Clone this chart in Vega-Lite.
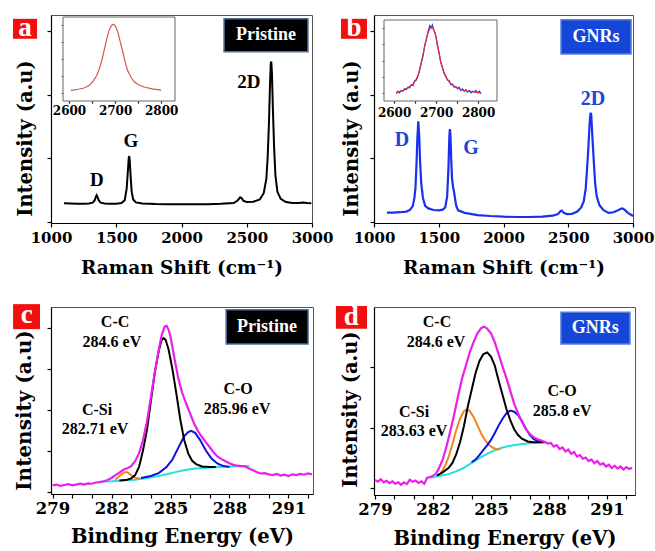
{
"$schema": "https://vega.github.io/schema/vega-lite/v6.json",
"padding": {"left": 12, "top": 13, "right": 4, "bottom": 2},
"background": "white",
"config": {
 "view": {"stroke": "#555", "strokeWidth": 1},
 "style": {"guide-label": {"font": "DejaVu Serif", "fontWeight": "bold"}, "guide-title": {"font": "DejaVu Serif", "fontWeight": "bold"}},
 "axis": {"grid": false, "domainColor": "black", "tickColor": "black", "labelColor": "black", "titleColor": "black", "domainWidth": 1.2, "tickWidth": 1.2},
 "text": {"font": "Liberation Serif", "fontWeight": "bold"}
},
"datasets": {
 "a_main": [{"x":1100,"y":0.08},{"x":1150,"y":0.075},{"x":1200,"y":0.07},{"x":1250,"y":0.07},{"x":1290,"y":0.075},{"x":1320,"y":0.1},{"x":1335,"y":0.18},{"x":1345,"y":0.3},{"x":1350,"y":0.34},{"x":1355,"y":0.3},{"x":1365,"y":0.18},{"x":1380,"y":0.1},{"x":1410,"y":0.075},{"x":1450,"y":0.07},{"x":1500,"y":0.07},{"x":1540,"y":0.09},{"x":1565,"y":0.18},{"x":1580,"y":0.55},{"x":1590,"y":1.15},{"x":1596,"y":1.52},{"x":1599,"y":1.57},{"x":1603,"y":1.45},{"x":1610,"y":0.95},{"x":1618,"y":0.45},{"x":1630,"y":0.2},{"x":1650,"y":0.11},{"x":1700,"y":0.075},{"x":1800,"y":0.06},{"x":1900,"y":0.055},{"x":2000,"y":0.055},{"x":2100,"y":0.05},{"x":2200,"y":0.055},{"x":2300,"y":0.065},{"x":2400,"y":0.09},{"x":2430,"y":0.17},{"x":2450,"y":0.27},{"x":2460,"y":0.25},{"x":2475,"y":0.16},{"x":2500,"y":0.12},{"x":2550,"y":0.13},{"x":2600,"y":0.2},{"x":2630,"y":0.4},{"x":2650,"y":0.85},{"x":2660,"y":1.5},{"x":2670,"y":2.6},{"x":2678,"y":3.8},{"x":2684,"y":4.5},{"x":2688,"y":4.55},{"x":2693,"y":4.2},{"x":2700,"y":3.1},{"x":2710,"y":1.8},{"x":2720,"y":0.95},{"x":2735,"y":0.45},{"x":2760,"y":0.22},{"x":2800,"y":0.12},{"x":2850,"y":0.09},{"x":2900,"y":0.09},{"x":2930,"y":0.11},{"x":2960,"y":0.09},{"x":2995,"y":0.08}],
 "a_inset": [{"x":2604,"y":0.127},{"x":2620,"y":0.14},{"x":2633,"y":0.155},{"x":2645,"y":0.19},{"x":2651,"y":0.226},{"x":2660,"y":0.3},{"x":2666,"y":0.385},{"x":2672,"y":0.5},{"x":2677,"y":0.62},{"x":2682,"y":0.74},{"x":2687,"y":0.84},{"x":2692,"y":0.9},{"x":2697,"y":0.915},{"x":2701,"y":0.89},{"x":2706,"y":0.82},{"x":2711,"y":0.71},{"x":2717,"y":0.58},{"x":2722,"y":0.46},{"x":2727,"y":0.365},{"x":2735,"y":0.28},{"x":2742,"y":0.226},{"x":2752,"y":0.19},{"x":2763,"y":0.167},{"x":2780,"y":0.145},{"x":2800,"y":0.13}],
 "a_lab": [{"x":1352,"y":0.82,"t":"D"},{"x":1613,"y":2.05,"t":"G"},{"x":2517,"y":3.91,"t":"2D"}],
 "b_main": [{"x":1100,"y":-0.21},{"x":1150,"y":-0.21},{"x":1200,"y":-0.2},{"x":1250,"y":-0.18},{"x":1280,"y":-0.12},{"x":1300,"y":0.0},{"x":1312,"y":0.25},{"x":1320,"y":0.55},{"x":1328,"y":1.3},{"x":1335,"y":2.15},{"x":1342,"y":2.67},{"x":1349,"y":2.2},{"x":1356,"y":1.4},{"x":1365,"y":0.7},{"x":1378,"y":0.25},{"x":1395,"y":0.0},{"x":1420,"y":-0.08},{"x":1460,"y":-0.13},{"x":1500,"y":-0.14},{"x":1530,"y":-0.12},{"x":1550,"y":-0.05},{"x":1565,"y":0.3},{"x":1575,"y":1.2},{"x":1582,"y":2.2},{"x":1586,"y":2.42},{"x":1590,"y":2.25},{"x":1596,"y":1.5},{"x":1602,"y":0.9},{"x":1610,"y":0.6},{"x":1618,"y":0.45},{"x":1625,"y":0.25},{"x":1635,"y":0.0},{"x":1650,"y":-0.14},{"x":1700,"y":-0.22},{"x":1800,"y":-0.29},{"x":1900,"y":-0.32},{"x":2000,"y":-0.34},{"x":2100,"y":-0.35},{"x":2200,"y":-0.35},{"x":2300,"y":-0.34},{"x":2380,"y":-0.31},{"x":2420,"y":-0.26},{"x":2440,"y":-0.17},{"x":2450,"y":-0.15},{"x":2465,"y":-0.22},{"x":2490,"y":-0.26},{"x":2530,"y":-0.25},{"x":2570,"y":-0.18},{"x":2600,"y":-0.05},{"x":2620,"y":0.15},{"x":2635,"y":0.55},{"x":2645,"y":1.15},{"x":2655,"y":1.8},{"x":2663,"y":2.45},{"x":2668,"y":2.78},{"x":2673,"y":2.94},{"x":2678,"y":2.85},{"x":2686,"y":2.2},{"x":2698,"y":1.35},{"x":2708,"y":0.7},{"x":2720,"y":0.3},{"x":2740,"y":0.03},{"x":2770,"y":-0.13},{"x":2810,"y":-0.22},{"x":2850,"y":-0.2},{"x":2880,"y":-0.15},{"x":2905,"y":-0.09},{"x":2918,"y":-0.08},{"x":2935,"y":-0.12},{"x":2960,"y":-0.22},{"x":2985,"y":-0.28},{"x":3000,"y":-0.32}],
 "b_raw": [{"x":2605,"y":0.09},{"x":2609,"y":0.12},{"x":2613,"y":0.1},{"x":2617,"y":0.13},{"x":2621,"y":0.12},{"x":2625,"y":0.15},{"x":2629,"y":0.14},{"x":2633,"y":0.17},{"x":2637,"y":0.16},{"x":2641,"y":0.2},{"x":2645,"y":0.19},{"x":2649,"y":0.25},{"x":2653,"y":0.26},{"x":2657,"y":0.31},{"x":2661,"y":0.38},{"x":2665,"y":0.47},{"x":2669,"y":0.56},{"x":2673,"y":0.69},{"x":2677,"y":0.76},{"x":2681,"y":0.86},{"x":2685,"y":0.93},{"x":2688,"y":0.9},{"x":2691,"y":0.94},{"x":2694,"y":0.88},{"x":2697,"y":0.85},{"x":2700,"y":0.79},{"x":2703,"y":0.69},{"x":2707,"y":0.6},{"x":2711,"y":0.48},{"x":2715,"y":0.42},{"x":2719,"y":0.34},{"x":2723,"y":0.31},{"x":2727,"y":0.26},{"x":2731,"y":0.25},{"x":2735,"y":0.2},{"x":2739,"y":0.21},{"x":2743,"y":0.17},{"x":2747,"y":0.18},{"x":2751,"y":0.15},{"x":2755,"y":0.17},{"x":2759,"y":0.13},{"x":2763,"y":0.15},{"x":2767,"y":0.12},{"x":2771,"y":0.14},{"x":2775,"y":0.11},{"x":2779,"y":0.13},{"x":2783,"y":0.1},{"x":2787,"y":0.12},{"x":2791,"y":0.11},{"x":2795,"y":0.13},{"x":2799,"y":0.1},{"x":2803,"y":0.12},{"x":2807,"y":0.09}],
 "b_fit": [{"x":2605,"y":0.1},{"x":2620,"y":0.13},{"x":2632,"y":0.16},{"x":2645,"y":0.21},{"x":2652,"y":0.26},{"x":2658,"y":0.33},{"x":2664,"y":0.46},{"x":2670,"y":0.6},{"x":2676,"y":0.75},{"x":2681,"y":0.85},{"x":2686,"y":0.9},{"x":2690,"y":0.91},{"x":2695,"y":0.88},{"x":2700,"y":0.78},{"x":2706,"y":0.62},{"x":2712,"y":0.46},{"x":2718,"y":0.36},{"x":2724,"y":0.29},{"x":2732,"y":0.23},{"x":2740,"y":0.19},{"x":2753,"y":0.155},{"x":2766,"y":0.13},{"x":2785,"y":0.115},{"x":2805,"y":0.1}],
 "b_lab": [{"x":1216,"y":2.08,"t":"D"},{"x":1749,"y":1.83,"t":"G"},{"x":2691,"y":3.38,"t":"2D"}],
 "c_mag": [{"x":279.0,"y":-0.35},{"x":279.2,"y":-0.33},{"x":279.4,"y":-0.36},{"x":279.6,"y":-0.34},{"x":279.8,"y":-0.32},{"x":280.0,"y":-0.35},{"x":280.2,"y":-0.33},{"x":280.4,"y":-0.31},{"x":280.6,"y":-0.33},{"x":280.8,"y":-0.3},{"x":281.0,"y":-0.31},{"x":281.2,"y":-0.28},{"x":281.4,"y":-0.27},{"x":281.6,"y":-0.25},{"x":281.8,"y":-0.22},{"x":282.0,"y":-0.17},{"x":282.2,"y":-0.1},{"x":282.4,"y":-0.04},{"x":282.6,"y":0.03},{"x":282.8,"y":0.07},{"x":283.0,"y":0.12},{"x":283.2,"y":0.24},{"x":283.4,"y":0.43},{"x":283.6,"y":0.75},{"x":283.8,"y":1.2},{"x":284.0,"y":1.8},{"x":284.2,"y":2.4},{"x":284.4,"y":2.95},{"x":284.55,"y":3.31},{"x":284.7,"y":3.52},{"x":284.8,"y":3.54},{"x":284.9,"y":3.45},{"x":285.0,"y":3.28},{"x":285.2,"y":2.75},{"x":285.4,"y":2.25},{"x":285.6,"y":1.9},{"x":285.8,"y":1.64},{"x":286.0,"y":1.4},{"x":286.2,"y":1.16},{"x":286.4,"y":0.97},{"x":286.6,"y":0.83},{"x":286.8,"y":0.7},{"x":287.0,"y":0.58},{"x":287.2,"y":0.45},{"x":287.4,"y":0.35},{"x":287.6,"y":0.29},{"x":287.8,"y":0.24},{"x":288.0,"y":0.19},{"x":288.2,"y":0.15},{"x":288.4,"y":0.13},{"x":288.6,"y":0.12},{"x":288.8,"y":0.11},{"x":289.0,"y":0.06},{"x":289.2,"y":0.02},{"x":289.4,"y":-0.03},{"x":289.6,"y":-0.06},{"x":289.8,"y":-0.05},{"x":290.0,"y":-0.08},{"x":290.2,"y":-0.1},{"x":290.4,"y":-0.07},{"x":290.6,"y":-0.11},{"x":290.8,"y":-0.09},{"x":291.0,"y":-0.12},{"x":291.2,"y":-0.08},{"x":291.4,"y":-0.1},{"x":291.6,"y":-0.07},{"x":291.8,"y":-0.09},{"x":292.0,"y":-0.06},{"x":292.2,"y":-0.08}],
 "c_cc": [{"x":282.4,"y":-0.23},{"x":282.8,"y":-0.21},{"x":283.0,"y":-0.18},{"x":283.2,"y":-0.1},{"x":283.4,"y":0.1},{"x":283.6,"y":0.5},{"x":283.8,"y":1.0},{"x":284.0,"y":1.7},{"x":284.2,"y":2.4},{"x":284.4,"y":2.93},{"x":284.55,"y":3.2},{"x":284.65,"y":3.24},{"x":284.75,"y":3.2},{"x":284.9,"y":2.97},{"x":285.1,"y":2.48},{"x":285.3,"y":1.88},{"x":285.5,"y":1.25},{"x":285.7,"y":0.75},{"x":285.9,"y":0.43},{"x":286.1,"y":0.25},{"x":286.3,"y":0.17},{"x":286.6,"y":0.11},{"x":287.0,"y":0.1},{"x":287.3,"y":0.1}],
 "c_co": [{"x":283.5,"y":-0.17},{"x":284.0,"y":-0.12},{"x":284.4,"y":-0.05},{"x":284.8,"y":0.1},{"x":285.1,"y":0.28},{"x":285.4,"y":0.57},{"x":285.7,"y":0.85},{"x":285.9,"y":0.95},{"x":286.05,"y":0.98},{"x":286.25,"y":0.93},{"x":286.5,"y":0.76},{"x":286.8,"y":0.5},{"x":287.1,"y":0.3},{"x":287.4,"y":0.18},{"x":287.7,"y":0.12},{"x":288.0,"y":0.1}],
 "c_csi": [{"x":282.2,"y":-0.21},{"x":282.45,"y":-0.1},{"x":282.65,"y":-0.03},{"x":282.8,"y":-0.03},{"x":283.0,"y":-0.1},{"x":283.2,"y":-0.16},{"x":283.45,"y":-0.19}],
 "c_bg": [{"x":281.4,"y":-0.26},{"x":282.0,"y":-0.25},{"x":282.6,"y":-0.23},{"x":283.2,"y":-0.21},{"x":283.8,"y":-0.17},{"x":284.3,"y":-0.13},{"x":284.8,"y":-0.08},{"x":285.3,"y":-0.02},{"x":285.8,"y":0.03},{"x":286.3,"y":0.06},{"x":286.8,"y":0.08},{"x":287.4,"y":0.1},{"x":288.0,"y":0.11},{"x":288.6,"y":0.12},{"x":289.0,"y":0.12}],
 "c_lab": [{"x":282.18,"y":3.63,"t":"C-C"},{"x":282.02,"y":3.15,"t":"284.6 eV"},{"x":281.26,"y":1.49,"t":"C-Si"},{"x":281.16,"y":1.02,"t":"282.71 eV"},{"x":288.44,"y":2.0,"t":"C-O"},{"x":288.39,"y":1.51,"t":"285.96 eV"}],
 "d_mag": [{"x":279.0,"y":-0.22},{"x":279.15,"y":-0.28},{"x":279.3,"y":-0.2},{"x":279.45,"y":-0.3},{"x":279.6,"y":-0.25},{"x":279.75,"y":-0.33},{"x":279.9,"y":-0.27},{"x":280.05,"y":-0.35},{"x":280.2,"y":-0.3},{"x":280.35,"y":-0.38},{"x":280.5,"y":-0.3},{"x":280.65,"y":-0.36},{"x":280.8,"y":-0.22},{"x":280.95,"y":-0.28},{"x":281.1,"y":-0.24},{"x":281.25,"y":-0.32},{"x":281.4,"y":-0.27},{"x":281.55,"y":-0.35},{"x":281.7,"y":-0.15},{"x":281.85,"y":-0.13},{"x":282.0,"y":-0.08},{"x":282.15,"y":-0.02},{"x":282.3,"y":0.15},{"x":282.5,"y":0.45},{"x":282.7,"y":0.88},{"x":282.9,"y":1.4},{"x":283.1,"y":1.95},{"x":283.3,"y":2.55},{"x":283.5,"y":3.12},{"x":283.7,"y":3.55},{"x":283.9,"y":3.99},{"x":284.1,"y":4.33},{"x":284.3,"y":4.62},{"x":284.5,"y":4.8},{"x":284.65,"y":4.84},{"x":284.8,"y":4.78},{"x":285.0,"y":4.62},{"x":285.2,"y":4.32},{"x":285.4,"y":3.92},{"x":285.6,"y":3.52},{"x":285.8,"y":3.14},{"x":286.0,"y":2.72},{"x":286.2,"y":2.3},{"x":286.4,"y":1.98},{"x":286.6,"y":1.7},{"x":286.8,"y":1.46},{"x":287.0,"y":1.3},{"x":287.2,"y":1.19},{"x":287.4,"y":1.12},{"x":287.6,"y":1.08},{"x":287.8,"y":1.03},{"x":287.95,"y":0.98},{"x":288.1,"y":1.0},{"x":288.25,"y":0.88},{"x":288.4,"y":0.93},{"x":288.55,"y":0.8},{"x":288.7,"y":0.85},{"x":288.85,"y":0.72},{"x":289.0,"y":0.78},{"x":289.15,"y":0.64},{"x":289.3,"y":0.7},{"x":289.45,"y":0.55},{"x":289.6,"y":0.6},{"x":289.75,"y":0.48},{"x":289.9,"y":0.52},{"x":290.05,"y":0.4},{"x":290.2,"y":0.45},{"x":290.35,"y":0.33},{"x":290.5,"y":0.4},{"x":290.65,"y":0.28},{"x":290.8,"y":0.33},{"x":290.95,"y":0.22},{"x":291.1,"y":0.28},{"x":291.25,"y":0.17},{"x":291.4,"y":0.25},{"x":291.55,"y":0.15},{"x":291.7,"y":0.22},{"x":291.85,"y":0.12},{"x":292.0,"y":0.2},{"x":292.15,"y":0.14},{"x":292.3,"y":0.18}],
 "d_cc": [{"x":282.2,"y":-0.08},{"x":282.5,"y":0.03},{"x":282.8,"y":0.17},{"x":283.0,"y":0.33},{"x":283.2,"y":0.62},{"x":283.4,"y":1.02},{"x":283.6,"y":1.55},{"x":283.8,"y":2.2},{"x":284.0,"y":2.75},{"x":284.2,"y":3.3},{"x":284.4,"y":3.7},{"x":284.6,"y":3.93},{"x":284.8,"y":3.99},{"x":285.0,"y":3.85},{"x":285.2,"y":3.55},{"x":285.4,"y":3.05},{"x":285.6,"y":2.58},{"x":285.8,"y":2.12},{"x":286.0,"y":1.75},{"x":286.2,"y":1.45},{"x":286.4,"y":1.26},{"x":286.6,"y":1.14},{"x":286.9,"y":1.05},{"x":287.2,"y":1.02},{"x":287.7,"y":1.02}],
 "d_co": [{"x":284.0,"y":0.36},{"x":284.2,"y":0.45},{"x":284.4,"y":0.6},{"x":284.6,"y":0.76},{"x":284.8,"y":0.92},{"x":285.0,"y":1.1},{"x":285.2,"y":1.33},{"x":285.4,"y":1.58},{"x":285.6,"y":1.8},{"x":285.8,"y":1.98},{"x":286.0,"y":2.07},{"x":286.2,"y":2.03},{"x":286.4,"y":1.92},{"x":286.6,"y":1.72},{"x":286.8,"y":1.48},{"x":287.0,"y":1.27},{"x":287.2,"y":1.13},{"x":287.5,"y":1.04},{"x":287.8,"y":1.02}],
 "d_csi": [{"x":282.4,"y":0.0},{"x":282.6,"y":0.2},{"x":282.8,"y":0.52},{"x":283.0,"y":0.95},{"x":283.2,"y":1.42},{"x":283.4,"y":1.8},{"x":283.6,"y":2.05},{"x":283.75,"y":2.11},{"x":283.9,"y":2.06},{"x":284.1,"y":1.86},{"x":284.3,"y":1.58},{"x":284.5,"y":1.3},{"x":284.7,"y":1.08},{"x":284.9,"y":0.93},{"x":285.1,"y":0.84},{"x":285.3,"y":0.79},{"x":285.5,"y":0.8}],
 "d_bg": [{"x":281.9,"y":-0.14},{"x":282.3,"y":-0.09},{"x":282.8,"y":-0.03},{"x":283.2,"y":0.06},{"x":283.6,"y":0.18},{"x":284.0,"y":0.34},{"x":284.4,"y":0.5},{"x":284.8,"y":0.64},{"x":285.2,"y":0.76},{"x":285.6,"y":0.85},{"x":286.0,"y":0.91},{"x":286.5,"y":0.96},{"x":287.0,"y":0.99},{"x":287.5,"y":1.01},{"x":287.85,"y":1.02}],
 "d_lab": [{"x":282.21,"y":4.99,"t":"C-C"},{"x":282.16,"y":4.33,"t":"284.6 eV"},{"x":281.02,"y":2.03,"t":"C-Si"},{"x":281.02,"y":1.4,"t":"283.63 eV"},{"x":288.68,"y":2.72,"t":"C-O"},{"x":288.68,"y":2.05,"t":"285.8 eV"}]
},
"bounds": "flush",
"columns": 2,
"spacing": {"row": 84, "column": 61},
"concat": [
 {
  "width": 261, "height": 208,
  "resolve": {"scale": {"x": "independent", "y": "independent"}},
  "layer": [
   {"layer": [
    {"data": {"name": "a_main"}, "mark": {"type": "line", "color": "black", "strokeWidth": 2},
     "encoding": {
      "x": {"field": "x", "type": "quantitative", "scale": {"domain": [1000, 3000], "nice": false, "zero": false},
        "axis": {"title": "Raman Shift (cm⁻¹)", "values": [1000,1250,1500,1750,2000,2250,2500,2750,3000], "format": "d", "labelExpr": "datum.value % 500 === 0 ? datum.label : ''", "tickSize": 4, "labelFont": "DejaVu Serif", "titleFont": "DejaVu Serif", "labelFontWeight": "bold", "titleFontWeight": "bold", "labelOverlap": false, "labelFlush": false, "labelFontSize": 15, "labelPadding": 3, "titleFontSize": 18.5, "titleY": 50, "titleBaseline": "alphabetic"}},
      "y": {"field": "y", "type": "quantitative", "scale": {"domain": [-0.54, 6.02], "nice": false, "zero": false},
        "axis": {"title": "Intensity (a.u)", "values": [-0.5,0,0.5,1,1.5,2,2.5,3,3.5,4,4.5,5,5.5,6], "labels": false, "tickSize": 4, "titleFont": "DejaVu Serif", "titleFontWeight": "bold", "titleFontSize": 19.5, "titleX": -26, "titleY": 123, "titleBaseline": "middle"}}
     }},
    {"data": {"name": "a_lab"}, "mark": {"type": "text", "fontSize": 19, "color": "black", "align": "center", "baseline": "middle"},
     "encoding": {"x": {"field": "x", "type": "quantitative"}, "y": {"field": "y", "type": "quantitative"}, "text": {"field": "t"}}},
    {"data": {"values": [{"x1": 709, "x2": 893, "y1": 5.27, "y2": 5.9}]}, "mark": {"type": "rect", "color": "#f01010"},
     "encoding": {"x": {"field": "x1", "type": "quantitative"}, "x2": {"field": "x2"}, "y": {"field": "y1", "type": "quantitative"}, "y2": {"field": "y2"}}},
    {"data": {"values": [{"x": 801, "y": 5.6, "t": "a"}]}, "mark": {"type": "text", "fontSize": 27, "color": "white", "align": "center", "baseline": "middle"},
     "encoding": {"x": {"field": "x", "type": "quantitative"}, "y": {"field": "y", "type": "quantitative"}, "text": {"field": "t"}}},
    {"data": {"values": [{"x1": 2326, "x2": 2969, "y1": 4.86, "y2": 5.9}]}, "mark": {"type": "rect", "color": "black", "stroke": "#4f6fa0", "strokeWidth": 1.5},
     "encoding": {"x": {"field": "x1", "type": "quantitative"}, "x2": {"field": "x2"}, "y": {"field": "y1", "type": "quantitative"}, "y2": {"field": "y2"}}},
    {"data": {"values": [{"x": 2648, "y": 5.38, "t": "Pristine"}]}, "mark": {"type": "text", "fontSize": 18, "color": "white", "align": "center", "baseline": "middle"},
     "encoding": {"x": {"field": "x", "type": "quantitative"}, "y": {"field": "y", "type": "quantitative"}, "text": {"field": "t"}}}
   ]},
   {"layer": [
    {"data": {"values": [{"x1": 2587, "x2": 2830, "y1": 0, "y2": 1}]}, "mark": {"type": "rect", "fill": "white", "fillOpacity": 0, "stroke": "#666", "strokeWidth": 1},
     "encoding": {
      "x": {"field": "x1", "type": "quantitative", "scale": {"domain": [2587, 2830], "range": [12, 124], "nice": false, "zero": false},
        "axis": {"orient": "bottom", "offset": -122, "title": null, "domain": false, "values": [2600,2650,2700,2750,2800], "format": "d", "labelExpr": "datum.value % 100 === 0 ? datum.label : ''", "tickSize": 2, "labelFont": "DejaVu Serif", "labelFontWeight": "bold", "labelOverlap": false, "labelFlush": false, "labelFontSize": 12, "labelPadding": 2}},
      "x2": {"field": "x2"},
      "y": {"field": "y1", "type": "quantitative", "scale": {"domain": [0, 1], "range": [86, 2], "nice": false, "zero": false},
        "axis": {"orient": "left", "offset": -12, "title": null, "domain": false, "labels": false, "values": [0.1,0.2,0.3,0.4,0.5,0.6,0.7,0.8,0.9], "tickSize": 2, "tickWidth": 1, "tickColor": "#555"}},
      "y2": {"field": "y2"}
     }},
    {"data": {"name": "a_inset"}, "mark": {"type": "line", "color": "#d9534f", "strokeWidth": 1.2},
     "encoding": {"x": {"field": "x", "type": "quantitative"}, "y": {"field": "y", "type": "quantitative"}}}
   ]}
  ]
 },
 {
  "width": 259, "height": 208,
  "resolve": {"scale": {"x": "independent", "y": "independent"}},
  "layer": [
   {"layer": [
    {"data": {"name": "b_main"}, "mark": {"type": "line", "color": "#1a30ee", "strokeWidth": 2.2},
     "encoding": {
      "x": {"field": "x", "type": "quantitative", "scale": {"domain": [1000, 3000], "nice": false, "zero": false},
        "axis": {"title": "Raman Shift (cm⁻¹)", "values": [1000,1250,1500,1750,2000,2250,2500,2750,3000], "format": "d", "labelExpr": "datum.value % 500 === 0 ? datum.label : ''", "tickSize": 4, "labelFont": "DejaVu Serif", "titleFont": "DejaVu Serif", "labelFontWeight": "bold", "titleFontWeight": "bold", "labelOverlap": false, "labelFlush": false, "labelFontSize": 15, "labelPadding": 3, "titleFontSize": 18.5, "titleY": 50, "titleBaseline": "alphabetic"}},
      "y": {"field": "y", "type": "quantitative", "scale": {"domain": [-0.54, 6.02], "nice": false, "zero": false},
        "axis": {"title": "Intensity (a.u)", "values": [-0.5,0,0.5,1,1.5,2,2.5,3,3.5,4,4.5,5,5.5,6], "labels": false, "tickSize": 4, "titleFont": "DejaVu Serif", "titleFontWeight": "bold", "titleFontSize": 19.5, "titleX": -23, "titleY": 123, "titleBaseline": "middle"}}
     }},
    {"data": {"name": "b_lab"}, "mark": {"type": "text", "fontSize": 20, "color": "#1f45d6", "align": "center", "baseline": "middle"},
     "encoding": {"x": {"field": "x", "type": "quantitative"}, "y": {"field": "y", "type": "quantitative"}, "text": {"field": "t"}}},
    {"data": {"values": [{"x1": 745, "x2": 946, "y1": 5.27, "y2": 5.9}]}, "mark": {"type": "rect", "color": "#f01010"},
     "encoding": {"x": {"field": "x1", "type": "quantitative"}, "x2": {"field": "x2"}, "y": {"field": "y1", "type": "quantitative"}, "y2": {"field": "y2"}}},
    {"data": {"values": [{"x": 846, "y": 5.6, "t": "b"}]}, "mark": {"type": "text", "fontSize": 27, "color": "white", "align": "center", "baseline": "middle"},
     "encoding": {"x": {"field": "x", "type": "quantitative"}, "y": {"field": "y", "type": "quantitative"}, "text": {"field": "t"}}},
    {"data": {"values": [{"x1": 2444, "x2": 2985, "y1": 4.79, "y2": 5.87}]}, "mark": {"type": "rect", "color": "#1446d8", "stroke": "#5a7fd8", "strokeWidth": 1.5},
     "encoding": {"x": {"field": "x1", "type": "quantitative"}, "x2": {"field": "x2"}, "y": {"field": "y1", "type": "quantitative"}, "y2": {"field": "y2"}}},
    {"data": {"values": [{"x": 2714, "y": 5.32, "t": "GNRs"}]}, "mark": {"type": "text", "fontSize": 18, "color": "white", "align": "center", "baseline": "middle"},
     "encoding": {"x": {"field": "x", "type": "quantitative"}, "y": {"field": "y", "type": "quantitative"}, "text": {"field": "t"}}}
   ]},
   {"layer": [
    {"data": {"values": [{"x1": 2576, "x2": 2845, "y1": 0, "y2": 1}]}, "mark": {"type": "rect", "fill": "white", "fillOpacity": 0, "stroke": "#666", "strokeWidth": 1},
     "encoding": {
      "x": {"field": "x1", "type": "quantitative", "scale": {"domain": [2576, 2845], "range": [10, 123], "nice": false, "zero": false},
        "axis": {"orient": "bottom", "offset": -122, "title": null, "domain": false, "values": [2600,2650,2700,2750,2800], "format": "d", "labelExpr": "datum.value % 100 === 0 ? datum.label : ''", "tickSize": 2, "labelFont": "DejaVu Serif", "labelFontWeight": "bold", "labelOverlap": false, "labelFlush": false, "labelFontSize": 12, "labelPadding": 4}},
      "x2": {"field": "x2"},
      "y": {"field": "y1", "type": "quantitative", "scale": {"domain": [0, 1], "range": [86, 5], "nice": false, "zero": false},
        "axis": {"orient": "left", "offset": -10, "title": null, "domain": false, "labels": false, "values": [0.1,0.2,0.3,0.4,0.5,0.6,0.7,0.8,0.9], "tickSize": 2, "tickWidth": 1, "tickColor": "#555"}},
      "y2": {"field": "y2"}
     }},
    {"data": {"name": "b_raw"}, "mark": {"type": "line", "color": "#2233ee", "strokeWidth": 1.2},
     "encoding": {"x": {"field": "x", "type": "quantitative"}, "y": {"field": "y", "type": "quantitative"}}},
    {"data": {"name": "b_fit"}, "mark": {"type": "line", "color": "#e03030", "strokeWidth": 1.2},
     "encoding": {"x": {"field": "x", "type": "quantitative"}, "y": {"field": "y", "type": "quantitative"}}}
   ]}
  ]
 },
 {
  "width": 262, "height": 187,
  "resolve": {"scale": {"x": "independent"}},
  "layer": [
   {"layer": [
    {"data": {"name": "c_bg"}, "mark": {"type": "line", "color": "#20e0e0", "strokeWidth": 2},
     "encoding": {
      "x": {"field": "x", "type": "quantitative", "scale": {"domain": [278.92, 292.25], "nice": false, "zero": false},
        "axis": {"title": "Binding Energy (eV)", "values": [279,282,285,288,291], "tickSize": 4, "labelFont": "DejaVu Serif", "titleFont": "DejaVu Serif", "labelFontWeight": "bold", "titleFontWeight": "bold", "labelOverlap": false, "labelFlush": false, "labelFontSize": 16.5, "labelPadding": 2, "titleFontSize": 19.5, "titleY": 48, "titleBaseline": "alphabetic"}},
      "y": {"field": "y", "type": "quantitative", "scale": {"domain": [-0.56, 4.0], "nice": false, "zero": false},
        "axis": {"title": "Intensity (a.u)", "values": [-0.5,0,0.5,1,1.5,2,2.5,3,3.5,4], "labels": false, "tickSize": 4, "titleFont": "DejaVu Serif", "titleFontWeight": "bold", "titleFontSize": 20, "titleX": -27, "titleY": 103, "titleBaseline": "middle"}}
     }},
    {"data": {"name": "c_csi"}, "mark": {"type": "line", "color": "#f5821f", "strokeWidth": 2},
     "encoding": {"x": {"field": "x", "type": "quantitative"}, "y": {"field": "y", "type": "quantitative"}}},
    {"data": {"name": "c_co"}, "mark": {"type": "line", "color": "#1010e0", "strokeWidth": 2},
     "encoding": {"x": {"field": "x", "type": "quantitative"}, "y": {"field": "y", "type": "quantitative"}}},
    {"data": {"name": "c_cc"}, "mark": {"type": "line", "color": "black", "strokeWidth": 2},
     "encoding": {"x": {"field": "x", "type": "quantitative"}, "y": {"field": "y", "type": "quantitative"}}},
    {"data": {"name": "c_mag"}, "mark": {"type": "line", "color": "#ec1fe8", "strokeWidth": 2.2},
     "encoding": {"x": {"field": "x", "type": "quantitative"}, "y": {"field": "y", "type": "quantitative"}}},
    {"data": {"name": "c_lab"}, "mark": {"type": "text", "fontSize": 16, "color": "black", "align": "center", "baseline": "middle"},
     "encoding": {"x": {"field": "x", "type": "quantitative"}, "y": {"field": "y", "type": "quantitative"}, "text": {"field": "t"}}},
    {"data": {"values": [{"x1": 276.99, "x2": 278.36, "y1": 3.46, "y2": 4.07}]}, "mark": {"type": "rect", "color": "#f01010"},
     "encoding": {"x": {"field": "x1", "type": "quantitative"}, "x2": {"field": "x2"}, "y": {"field": "y1", "type": "quantitative"}, "y2": {"field": "y2"}}},
    {"data": {"values": [{"x": 277.68, "y": 3.8, "t": "c"}]}, "mark": {"type": "text", "fontSize": 27, "color": "white", "align": "center", "baseline": "middle"},
     "encoding": {"x": {"field": "x", "type": "quantitative"}, "y": {"field": "y", "type": "quantitative"}, "text": {"field": "t"}}},
    {"data": {"values": [{"x1": 287.83, "x2": 292.0, "y1": 3.1, "y2": 3.93}]}, "mark": {"type": "rect", "color": "black", "stroke": "#4f6fa0", "strokeWidth": 1.5},
     "encoding": {"x": {"field": "x1", "type": "quantitative"}, "x2": {"field": "x2"}, "y": {"field": "y1", "type": "quantitative"}, "y2": {"field": "y2"}}},
    {"data": {"values": [{"x": 289.91, "y": 3.51, "t": "Pristine"}]}, "mark": {"type": "text", "fontSize": 18, "color": "white", "align": "center", "baseline": "middle"},
     "encoding": {"x": {"field": "x", "type": "quantitative"}, "y": {"field": "y", "type": "quantitative"}, "text": {"field": "t"}}}
   ]},
   {"data": {"values": [{"x": 285, "y": 0}]}, "mark": {"type": "point", "opacity": 0},
    "encoding": {
     "x": {"field": "x", "type": "quantitative", "scale": {"domain": [278.92, 292.25], "nice": false, "zero": false},
       "axis": {"orient": "bottom", "values": [280,281,283,284,286,287,289,290,292], "labels": false, "title": null, "domain": false, "tickSize": 4}},
     "y": {"field": "y", "type": "quantitative"}
    }}
  ]
 },
 {
  "width": 261, "height": 188,
  "resolve": {"scale": {"x": "independent"}},
  "layer": [
   {"layer": [
    {"data": {"name": "d_bg"}, "mark": {"type": "line", "color": "#20e0e0", "strokeWidth": 2},
     "encoding": {
      "x": {"field": "x", "type": "quantitative", "scale": {"domain": [278.95, 292.45], "nice": false, "zero": false},
        "axis": {"title": "Binding Energy (eV)", "values": [279,282,285,288,291], "tickSize": 4, "labelFont": "DejaVu Serif", "titleFont": "DejaVu Serif", "labelFontWeight": "bold", "titleFontWeight": "bold", "labelOverlap": false, "labelFlush": false, "labelFontSize": 16.5, "labelPadding": 2, "titleFontSize": 19.5, "titleY": 49, "titleBaseline": "alphabetic"}},
      "y": {"field": "y", "type": "quantitative", "scale": {"domain": [-0.72, 5.49], "nice": false, "zero": false},
        "axis": {"title": "Intensity (a.u)", "values": [-0.5,0,0.5,1,1.5,2,2.5,3,3.5,4,4.5,5], "labels": false, "tickSize": 4, "titleFont": "DejaVu Serif", "titleFontWeight": "bold", "titleFontSize": 19.5, "titleX": -24, "titleY": 102, "titleBaseline": "middle"}}
     }},
    {"data": {"name": "d_csi"}, "mark": {"type": "line", "color": "#f5821f", "strokeWidth": 2},
     "encoding": {"x": {"field": "x", "type": "quantitative"}, "y": {"field": "y", "type": "quantitative"}}},
    {"data": {"name": "d_co"}, "mark": {"type": "line", "color": "#1010e0", "strokeWidth": 2},
     "encoding": {"x": {"field": "x", "type": "quantitative"}, "y": {"field": "y", "type": "quantitative"}}},
    {"data": {"name": "d_cc"}, "mark": {"type": "line", "color": "black", "strokeWidth": 2},
     "encoding": {"x": {"field": "x", "type": "quantitative"}, "y": {"field": "y", "type": "quantitative"}}},
    {"data": {"name": "d_mag"}, "mark": {"type": "line", "color": "#ec1fe8", "strokeWidth": 2.2},
     "encoding": {"x": {"field": "x", "type": "quantitative"}, "y": {"field": "y", "type": "quantitative"}}},
    {"data": {"name": "d_lab"}, "mark": {"type": "text", "fontSize": 16, "color": "black", "align": "center", "baseline": "middle"},
     "encoding": {"x": {"field": "x", "type": "quantitative"}, "y": {"field": "y", "type": "quantitative"}, "text": {"field": "t"}}},
    {"data": {"values": [{"x1": 276.98, "x2": 278.59, "y1": 4.77, "y2": 5.52}]}, "mark": {"type": "rect", "color": "#f01010"},
     "encoding": {"x": {"field": "x1", "type": "quantitative"}, "x2": {"field": "x2"}, "y": {"field": "y1", "type": "quantitative"}, "y2": {"field": "y2"}}},
    {"data": {"values": [{"x": 277.78, "y": 5.17, "t": "d"}]}, "mark": {"type": "text", "fontSize": 27, "color": "white", "align": "center", "baseline": "middle"},
     "encoding": {"x": {"field": "x", "type": "quantitative"}, "y": {"field": "y", "type": "quantitative"}, "text": {"field": "t"}}},
    {"data": {"values": [{"x1": 288.62, "x2": 292.19, "y1": 4.27, "y2": 5.32}]}, "mark": {"type": "rect", "color": "#1446d8", "stroke": "#5a7fd8", "strokeWidth": 1.5},
     "encoding": {"x": {"field": "x1", "type": "quantitative"}, "x2": {"field": "x2"}, "y": {"field": "y1", "type": "quantitative"}, "y2": {"field": "y2"}}},
    {"data": {"values": [{"x": 290.4, "y": 4.8, "t": "GNRs"}]}, "mark": {"type": "text", "fontSize": 18, "color": "white", "align": "center", "baseline": "middle"},
     "encoding": {"x": {"field": "x", "type": "quantitative"}, "y": {"field": "y", "type": "quantitative"}, "text": {"field": "t"}}}
   ]},
   {"data": {"values": [{"x": 285, "y": 0}]}, "mark": {"type": "point", "opacity": 0},
    "encoding": {
     "x": {"field": "x", "type": "quantitative", "scale": {"domain": [278.95, 292.45], "nice": false, "zero": false},
       "axis": {"orient": "bottom", "values": [280,281,283,284,286,287,289,290,292], "labels": false, "title": null, "domain": false, "tickSize": 4}},
     "y": {"field": "y", "type": "quantitative"}
    }}
  ]
 }
]
}
